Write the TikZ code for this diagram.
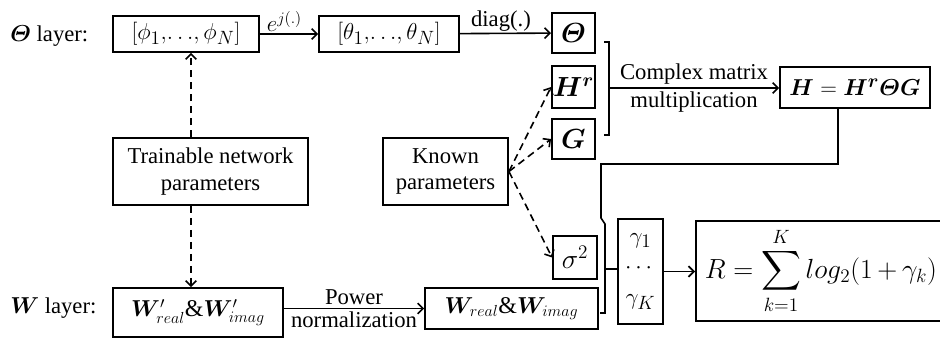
\documentclass[tikz,border=0pt]{standalone}
\usepackage{amsmath,bm}
\usepackage{fontspec}
\setmainfont{Liberation Serif}
\usetikzlibrary{arrows.meta,calc}
\begin{document}
\begin{tikzpicture}[x=0.75pt,y=-0.75pt, font=\fontsize{17}{20}\selectfont,
 bx/.style={draw, line width=1.4pt, inner sep=0pt, align=center},
 bigm/.style={font=\fontsize{20}{24}\selectfont},
 midm/.style={font=\fontsize{19}{22}\selectfont},
 conn/.style={line width=1.2pt},
 arr/.style={conn, -{Straight Barb[length=4pt,width=8pt]}},
 darr/.style={arr, dash pattern=on 5.5pt off 3.5pt}]
\useasboundingbox (0,0) rectangle (940,341);
\clip (0,0) rectangle (940,341);

\node[bx, midm, minimum width=109.5pt, minimum height=27pt] (phi) at (186,34) {$[\phi_1,\!\ldots\!,\phi_N]$};
\node[bx, midm, minimum width=105pt, minimum height=27pt] (theta) at (389,34) {$[\theta_1,\!\ldots\!,\theta_N]$};
\node[bx, bigm, minimum width=32.25pt, minimum height=30pt] (Th) at (573.5,33) {$\boldsymbol{\varTheta}$};
\node[bx, bigm, minimum width=32.25pt, minimum height=31.5pt] (Hr) at (573.5,87) {$\boldsymbol{H}^{\boldsymbol{r}}$};
\node[bx, bigm, minimum width=32.25pt, minimum height=30pt] (G) at (573.5,139) {$\boldsymbol{G}$};
\node[bx, font=\fontsize{19}{22}\selectfont, minimum width=112.5pt, minimum height=30.75pt] (H) at (855,87.5) {$\boldsymbol{H}=\boldsymbol{H}^{\boldsymbol{r}}\boldsymbol{\varTheta}\boldsymbol{G}$};
\node[bx, minimum width=146.25pt, minimum height=50.25pt] (Tr) at (210.5,171.5) {Trainable network\\parameters};
\node[bx, minimum width=93.75pt, minimum height=50.25pt] (Kn) at (445.5,171.5) {Known\\parameters};
\node[bx, bigm, minimum width=33pt, minimum height=32.25pt] (sig) at (575,257.5) {$\sigma^2$};
\node[bx, font=\fontsize{18}{21}\selectfont, minimum width=127.5pt, minimum height=36.75pt] (Wp) at (198,312.5) {$\boldsymbol{W}^{\prime}_{real}$\&$\boldsymbol{W}^{\prime}_{imag}$};
\node[bx, font=\fontsize{18}{21}\selectfont, minimum width=129.75pt, minimum height=30.75pt] (W) at (511.5,308.5) {$\boldsymbol{W}_{real}$\&$\boldsymbol{W}_{imag}$};
\node[bx, minimum width=33.75pt, minimum height=78.75pt, font=\fontsize{19}{23}\selectfont] (gam) at (640.5,271.5) {$\gamma_1$\\$\cdots$\\$\gamma_K$};
\node[bx, bigm, anchor=west, minimum height=75pt, inner xsep=6.75pt, text width=174pt, align=left] (R) at (695,271) {$R=\displaystyle\sum_{k=1}^{K} log_2(1+\gamma_k)$};

\node[anchor=west, inner sep=0pt] (Tl) at (10,36) {$\boldsymbol{\varTheta}$ layer:};
\node[anchor=west, inner sep=0pt] (Wl) at (10,308) {$\boldsymbol{W}$ layer:};

\draw[arr] (phi) -- node[above, inner sep=1pt, pos=0.42] {$e^{j(.)}$} (theta);
\draw[arr] (theta) -- node[above, inner sep=1pt, pos=0.45] {diag(.)} (Th);

\coordinate (b1m) at (609,88);
\draw[conn] (604,42) -- (609,42) -- (609,135) -- (604,135);
\draw[arr] (b1m) -- node[above, inner sep=2pt]{Complex matrix} node[below, inner sep=2pt]{multiplication} (b1m -| H.west);

\coordinate (hx) at (838,0);
\coordinate (b2m) at (605,269);
\draw[conn] (H.south -| hx) |- (601,164) -- (601,218) -- (605,224) -- (605,313) -- (600,313);
\draw[conn] (b2m) -- (b2m -| gam.west);
\draw[arr] (gam.east) -- (gam.east -| R.west);

\coordinate (ax) at (191,0);
\draw[darr] (Tr.north -| ax) -- (phi.south -| ax);
\draw[darr] (Tr.south -| ax) -- (Wp.north -| ax);
\draw[darr] (Kn.east) -- (Hr.west);
\draw[darr] (Kn.east) -- (G.west);
\draw[darr] (Kn.east) -- (sig.west);

\draw[arr] (W.west -| Wp.east) -- node[above, inner sep=2pt]{Power} node[below, inner sep=2pt]{normalization} (W.west);
\end{tikzpicture}
\end{document}
